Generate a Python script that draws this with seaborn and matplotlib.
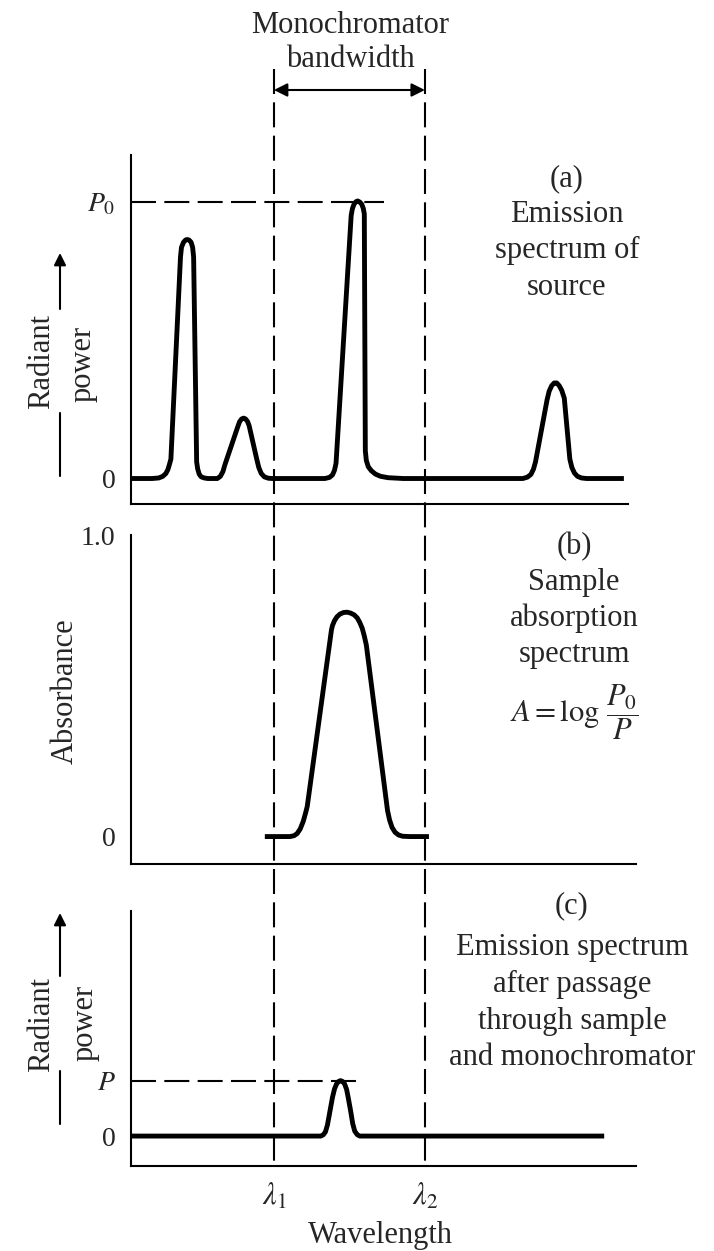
import matplotlib
matplotlib.use("Agg")
import matplotlib.pyplot as plt
import seaborn as sns
import pandas as pd
from matplotlib.lines import Line2D
from matplotlib.patches import FancyArrowPatch
from matplotlib.transforms import blended_transform_factory

# ---------------- data (wavelength in arbitrary units 0-100) ----------------
# (a) emission spectrum of the source (radiant power, P0 = 1)
source_wavelength = [0.0, 4.2, 5.5, 6.3, 6.9, 7.3, 7.6, 7.9, 9.8, 10.0, 10.4, 10.8, 11.1,
                     11.5, 11.9, 12.2, 12.4, 13.0, 13.2, 13.5, 13.9, 14.5, 15.2, 17.1,
                     17.7, 18.2, 18.6, 21.2, 21.5, 21.9, 22.3, 22.7, 23.1, 23.4, 24.9,
                     25.3, 25.8, 26.4, 27.2, 28.0, 38.4, 39.3, 39.9, 40.3, 40.6, 43.6,
                     43.85, 44.2, 44.6, 44.9, 45.3, 45.7, 46.0, 46.2, 46.4, 46.6, 47.0,
                     47.6, 48.4, 49.4, 50.9, 53.9, 77.6, 78.5, 79.2, 79.7, 80.1, 82.4,
                     82.8, 83.3, 83.8, 84.3, 84.8, 85.3, 85.8, 86.9, 87.3, 87.8, 88.4,
                     89.2, 90.2, 97.6]
source_power = [0.0, 0.0, 0.002, 0.008, 0.018, 0.032, 0.05, 0.07, 0.80, 0.835, 0.853, 0.861,
                0.863, 0.861, 0.853, 0.835, 0.80, 0.06, 0.035, 0.016, 0.006, 0.002, 0.0,
                0.0, 0.008, 0.025, 0.05, 0.19, 0.205, 0.215, 0.218, 0.215, 0.205, 0.19,
                0.07, 0.04, 0.018, 0.006, 0.001, 0.0, 0.0, 0.004, 0.013, 0.03, 0.055,
                0.95, 0.975, 0.992, 1.0, 1.002, 0.998, 0.99, 0.975, 0.955, 0.10, 0.065,
                0.042, 0.028, 0.016, 0.008, 0.003, 0.0, 0.0, 0.005, 0.015, 0.034, 0.06,
                0.285, 0.315, 0.335, 0.345, 0.345, 0.335, 0.318, 0.29, 0.07, 0.04, 0.02,
                0.008, 0.002, 0.0, 0.0]

# (b) sample absorption spectrum (absorbance)
sample_wavelength = [26.5, 31.5, 32.3, 32.9, 33.5, 34.1, 34.6, 34.9, 39.7, 39.9, 40.3, 40.8,
                     41.4, 42.1, 42.8, 43.5, 44.2, 44.8, 45.3, 45.8, 46.2, 46.6, 50.8,
                     51.2, 51.7, 52.3, 53.0, 53.8, 55.2, 59.0]
sample_absorbance = [0.0, 0.0, 0.003, 0.01, 0.025, 0.05, 0.08, 0.10, 0.686, 0.70, 0.716,
                     0.729, 0.738, 0.743, 0.744, 0.741, 0.735, 0.725, 0.71, 0.69, 0.665,
                     0.635, 0.086, 0.055, 0.030, 0.014, 0.005, 0.001, 0.0, 0.0]

# (c) emission spectrum after passage through sample and monochromator
output_wavelength = [0.0, 37.6, 38.1, 38.5, 38.9, 39.4, 39.9, 40.3, 40.7, 41.1, 41.5, 41.9,
                     42.3, 42.7, 43.0, 43.5, 43.9, 44.3, 44.8, 45.3, 93.7]
output_power = [0.0, 0.0, 0.005, 0.015, 0.04, 0.09, 0.14, 0.17, 0.188, 0.197, 0.2, 0.197,
                0.188, 0.168, 0.14, 0.09, 0.045, 0.018, 0.005, 0.0, 0.0]

P0_LEVEL = 1.0
P_LEVEL = 0.2
LAMBDA_1 = 28.3
LAMBDA_2 = 58.2

a_ticks = [0, P0_LEVEL]
a_ticklabels = ["0", r"$P_0$"]
b_ticks = [0, 1.0]
b_ticklabels = ["0", "1.0"]
c_ticks = [0, P_LEVEL]
c_ticklabels = ["0", r"$P$"]
x_ticks = [LAMBDA_1, LAMBDA_2]
x_ticklabels = [r"$\lambda_1$", r"$\lambda_2$"]

# ---------------- style ----------------
sns.set_style("white")
plt.rcParams["font.family"] = ["Liberation Serif", "DejaVu Serif"]
plt.rcParams["mathtext.fontset"] = "stix"

W, H = 714, 1251
fig = plt.figure(figsize=(W / 100, H / 100), dpi=100)
fig.patch.set_facecolor("white")


def fx(px):
    return px / W


def fy(py):
    return 1 - py / H


def add_ax(left, right, top, bottom):
    return fig.add_axes([fx(left), fy(bottom), (right - left) / W, (bottom - top) / H])


ax_a = add_ax(131, 636, 155, 504)
ax_b = add_ax(131, 636, 535, 864)
ax_c = add_ax(131, 636, 911, 1166)

LW_CURVE = 3.5
LW_AXIS = 1.5
DASH = (0, (12, 4))

df_a = pd.DataFrame({"wavelength": source_wavelength, "power": source_power})
df_b = pd.DataFrame({"wavelength": sample_wavelength, "absorbance": sample_absorbance})
df_c = pd.DataFrame({"wavelength": output_wavelength, "power": output_power})

line_kw = dict(sort=False, estimator=None, color="black", lw=LW_CURVE,
               solid_joinstyle="round", solid_capstyle="butt")
sns.lineplot(data=df_a, x="wavelength", y="power", ax=ax_a, **line_kw)
sns.lineplot(data=df_b, x="wavelength", y="absorbance", ax=ax_b, **line_kw)
sns.lineplot(data=df_c, x="wavelength", y="power", ax=ax_c, **line_kw)

for ax in (ax_a, ax_b, ax_c):
    ax.set_xlim(0, 100)
    ax.set_facecolor("none")
    ax.set_xlabel("")
    ax.set_ylabel("")
    for s in ("top", "right"):
        ax.spines[s].set_visible(False)
    for s in ("left", "bottom"):
        ax.spines[s].set_linewidth(LW_AXIS)
        ax.spines[s].set_color("black")
    ax.set_xticks([])
    ax.grid(False)

ax_a.set_ylim(-0.092, 1.168)
ax_a.set_yticks(a_ticks, a_ticklabels)
ax_a.tick_params(axis="y", length=0, pad=11, labelsize=20)
ax_a.spines["bottom"].set_bounds(0, 98.4)

ax_b.set_ylim(-0.091, 1.0)
ax_b.set_yticks(b_ticks, b_ticklabels)
ax_b.tick_params(axis="y", direction="in", length=16, width=LW_AXIS, pad=11, labelsize=20)

ax_c.set_ylim(-0.108, 0.812)
ax_c.set_yticks(c_ticks, c_ticklabels)
ax_c.tick_params(axis="y", length=0, pad=11, labelsize=20)
ax_c.set_xticks(x_ticks, x_ticklabels)
ax_c.tick_params(axis="x", length=0, pad=11, labelsize=22)

# reference levels P0 and P
ax_a.hlines(P0_LEVEL, 0, 50, colors="black", lw=LW_AXIS, linestyles=[DASH])
ax_c.hlines(P_LEVEL, 0, 46, colors="black", lw=LW_AXIS, linestyles=[DASH])

# monochromator band edges, spanning all panels
trans = blended_transform_factory(ax_c.transData, fig.transFigure)
for lam in (LAMBDA_1, LAMBDA_2):
    fig.add_artist(Line2D([lam, lam], [fy(69), fy(1166)], transform=trans,
                          color="black", lw=LW_AXIS, linestyle=DASH))
fig.add_artist(FancyArrowPatch((LAMBDA_1, fy(90)), (LAMBDA_2, fy(90)), transform=trans,
                               arrowstyle="<|-|>", mutation_scale=20, lw=LW_AXIS,
                               color="black", shrinkA=0, shrinkB=0))

FS = 22


def txt(x, y, s, **kw):
    opts = dict(ha="center", va="baseline", fontsize=FS)
    opts.update(kw)
    fig.text(fx(x), fy(y), s, **opts)


txt(350, 33, "Monochromator")
txt(350, 67, "bandwidth")

for s, y in zip(["(a)", "Emission", "spectrum of", "source"], [186, 222, 258, 295]):
    txt(567, y, s)
for s, y in zip(["(b)", "Sample", "absorption", "spectrum"], [554, 590, 626, 662]):
    txt(574, y, s)
txt(574, 712, r"$A = \log\,\dfrac{P_0}{P}$", va="center")
for s, y in zip(["(c)", "Emission spectrum", "after passage", "through sample",
                 "and monochromator"], [913, 955, 992, 1029, 1065]):
    txt(572, y, s)

txt(380, 1243, "Wavelength")

# vertical axis titles with arrows
txt(42, 361, "Radiant", rotation=90, va="center")
txt(83, 364, "power", rotation=90, va="center")
txt(42, 1024, "Radiant", rotation=90, va="center")
txt(85, 1023, "power", rotation=90, va="center")
txt(65, 691, "Absorbance", rotation=90, va="center")

for (top, up_end, low_start, bottom) in [(253, 309, 413, 476), (913, 976, 1071, 1124)]:
    fig.add_artist(FancyArrowPatch((fx(60), fy(up_end)), (fx(60), fy(top)),
                                   transform=fig.transFigure, arrowstyle="-|>",
                                   mutation_scale=18, lw=LW_AXIS, color="black",
                                   shrinkA=0, shrinkB=0))
    fig.add_artist(Line2D([fx(60), fx(60)], [fy(low_start), fy(bottom)],
                          transform=fig.transFigure, color="black", lw=LW_AXIS))

fig.savefig("out.png", dpi=100, facecolor="white")
